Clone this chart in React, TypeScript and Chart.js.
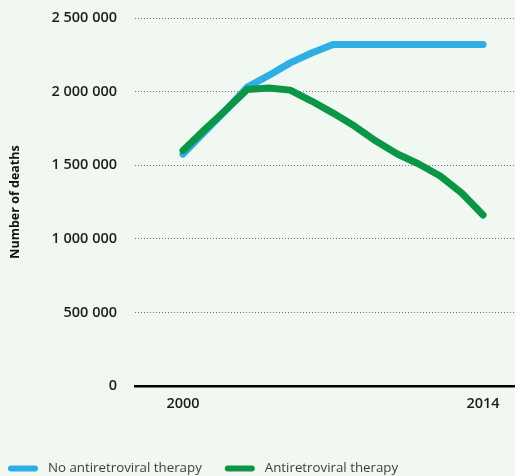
import React, { useEffect, useRef } from "react";
import { Chart, registerables } from "chart.js";

Chart.register(...registerables);

const years = [2000, 2001, 2002, 2003, 2004, 2005, 2006, 2007, 2008, 2009, 2010, 2011, 2012, 2013, 2014];
const noArtDeaths = [1575000, 1725000, 1875000, 2030000, 2110000, 2195000, 2262000, 2320000, 2320000, 2320000, 2320000, 2320000, 2320000, 2320000, 2320000];
const artDeaths = [1600000, 1740000, 1875000, 2015000, 2024000, 2010000, 1936000, 1854000, 1766000, 1664000, 1576000, 1508000, 1427000, 1311000, 1162000];
const yTicks = [0, 500000, 1000000, 1500000, 2000000, 2500000];
const xTicks = [2000, 2014];
const seriesLabels = ["No antiretroviral therapy", "Antiretroviral therapy"];
const seriesColors = ["#2faee5", "#0b9546"];

const BG = "#f1f8f1";
const FONT = "'Open Sans', 'DejaVu Sans', sans-serif";

const fmt = (v: number) => String(v).replace(/\B(?=(\d{3})+(?!\d))/g, " ");

const bgPlugin = {
  id: "bg",
  beforeDraw(chart: any) {
    const { ctx, width, height } = chart;
    ctx.save();
    ctx.fillStyle = BG;
    ctx.fillRect(0, 0, width, height);
    ctx.restore();
  },
};

const legendPlugin = {
  id: "customLegend",
  afterDraw(chart: any) {
    const { ctx } = chart;
    ctx.save();
    ctx.font = `400 13.3px ${FONT}`;
    ctx.textBaseline = "middle";
    let x = 8;
    const y = 468.5;
    chart.data.datasets.forEach((ds: any) => {
      ctx.fillStyle = ds.borderColor;
      ctx.beginPath();
      const w = 30, h = 6, r = 3;
      ctx.moveTo(x + r, y - h / 2);
      ctx.lineTo(x + w - r, y - h / 2);
      ctx.arc(x + w - r, y, r, -Math.PI / 2, Math.PI / 2);
      ctx.lineTo(x + r, y + h / 2);
      ctx.arc(x + r, y, r, Math.PI / 2, (3 * Math.PI) / 2);
      ctx.closePath();
      ctx.fill();
      const tx = x + 40;
      ctx.fillStyle = "#3d3d3d";
      ctx.fillText(ds.label, tx, y);
      x = tx + ctx.measureText(ds.label).width + 23;
    });
    ctx.restore();
  },
};

export default function App() {
  const ref = useRef<HTMLCanvasElement | null>(null);

  useEffect(() => {
    if (!ref.current) return;
    const chart = new Chart(ref.current, {
      type: "line",
      data: {
        datasets: [
          {
            label: seriesLabels[0],
            data: years.map((yr, i) => ({ x: yr, y: noArtDeaths[i] })),
            borderColor: seriesColors[0],
            backgroundColor: seriesColors[0],
            borderWidth: 7,
            pointRadius: 0,
            tension: 0,
            borderCapStyle: "round",
            borderJoinStyle: "round",
            order: 2,
          },
          {
            label: seriesLabels[1],
            data: years.map((yr, i) => ({ x: yr, y: artDeaths[i] })),
            borderColor: seriesColors[1],
            backgroundColor: seriesColors[1],
            borderWidth: 7,
            pointRadius: 0,
            tension: 0,
            borderCapStyle: "round",
            borderJoinStyle: "round",
            order: 1,
          },
        ],
      },
      options: {
        responsive: false,
        animation: false,
        layout: { padding: { left: 8, top: 18, right: 0, bottom: 0 } },
        plugins: {
          legend: { display: false },
          tooltip: { enabled: false },
        },
        scales: {
          x: {
            type: "linear",
            min: 1997.76,
            max: 2015.49,
            afterBuildTicks: (scale: any) => {
              scale.ticks = xTicks.map((v) => ({ value: v }));
            },
            afterFit: (scale: any) => {
              scale.height = 90;
              scale.paddingLeft = 0;
              scale.paddingRight = 0;
            },
            ticks: {
              autoSkip: false,
              maxRotation: 0,
              padding: 9,
              color: "#1d1d1d",
              font: { family: FONT, size: 14.5, weight: 600 },
              callback: (v: any) => String(v),
            },
            grid: { display: false, drawTicks: false, tickLength: 0 },
            border: { display: true, color: "#000000", width: 2.5 },
          },
          y: {
            min: 0,
            max: 2500000,
            afterBuildTicks: (scale: any) => {
              scale.ticks = yTicks.map((v) => ({ value: v }));
            },
            afterFit: (scale: any) => {
              scale.width = 127;
              scale.paddingTop = 0;
              scale.paddingBottom = 0;
            },
            ticks: {
              padding: 18,
              color: "#1d1d1d",
              font: { family: FONT, size: 14.5, weight: 600 },
              callback: (v: any) => fmt(Number(v)),
            },
            grid: { color: "#6f6f6f", lineWidth: 1, drawTicks: false, tickLength: 0 },
            border: { display: false, dash: [1, 2] },
            title: {
              display: true,
              text: "Number of deaths",
              color: "#111111",
              font: { family: FONT, size: 12.5, weight: "bold" },
              padding: { top: 0, bottom: 0 },
            },
          },
        },
      } as any,
      plugins: [bgPlugin, legendPlugin],
    });
    return () => chart.destroy();
  }, []);

  return (
    <div style={{ position: "absolute", left: 0, top: 0, width: 515, height: 476, background: BG }}>
      <canvas ref={ref} width={515} height={476} style={{ display: "block" }} />
    </div>
  );
}
